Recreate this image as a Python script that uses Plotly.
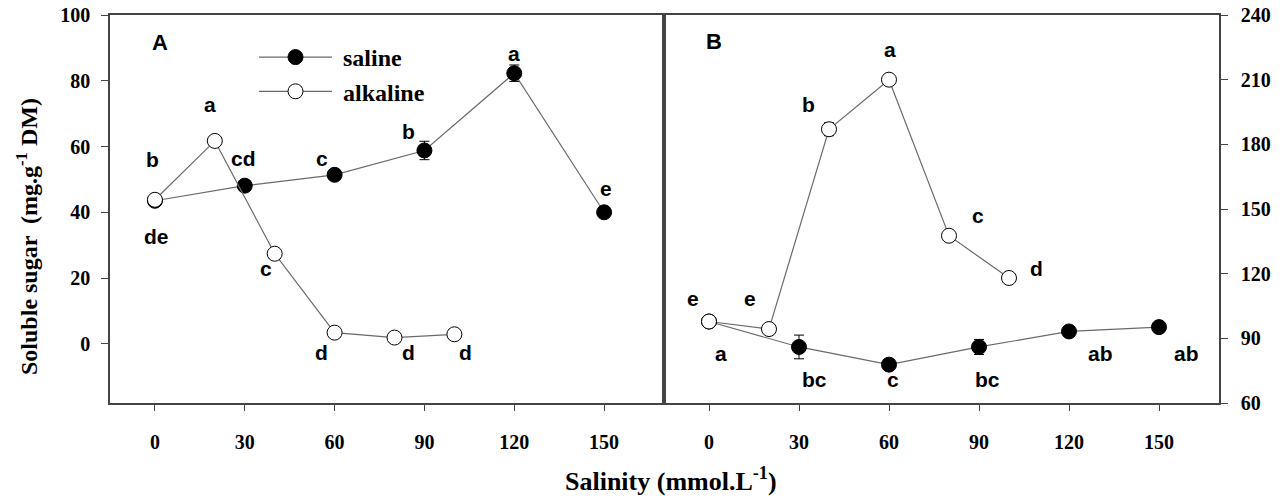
import plotly.graph_objects as go

# ---------------- data ----------------
# Panel A (left axis, mg.g-1 DM)
A_sal_x = [0, 30, 60, 90, 120, 150]
A_sal_y = [43.5, 48.1, 51.4, 58.8, 82.3, 40.0]
A_sal_err = [0, 0.8, 0.8, 2.8, 2.5, 0.8]
A_sal_letters = ["de", "cd", "c", "b", "a", "e"]

A_alk_x = [0, 20, 40, 60, 80, 100]
A_alk_y = [43.8, 61.7, 27.4, 3.4, 1.9, 2.9]
A_alk_err = [0.8, 1.2, 0.8, 0.5, 0.5, 0.5]
A_alk_letters = ["b", "a", "c", "d", "d", "d"]

# Panel B (right axis)
B_sal_x = [0, 30, 60, 90, 120, 150]
B_sal_y = [97.8, 86.0, 77.8, 86.0, 93.2, 95.2]
B_sal_err = [0.8, 5.5, 0.8, 3.5, 1.0, 1.0]
B_sal_letters = ["a", "bc", "c", "bc", "ab", "ab"]

B_alk_x = [0, 20, 40, 60, 80, 100]
B_alk_y = [97.8, 94.3, 187.0, 210.0, 137.6, 118.0]
B_alk_err = [0.8, 0.8, 3.0, 1.0, 1.0, 1.0]
B_alk_letters = ["e", "e", "b", "a", "c", "d"]

x_ticks = [0, 30, 60, 90, 120, 150]
yA_ticks = [0, 20, 40, 60, 80, 100]
yB_ticks = [60, 90, 120, 150, 180, 210, 240]

# ---------------- letter offsets (px) ----------------
A_sal_off = [(2, -36), (-1, 27), (-13, 16), (-16, 19), (0, 20), (2, 24)]
A_alk_off = [(-2, 40), (-5, 36), (-9, -15), (-13, -20), (14, -15), (11, -18)]
B_sal_off = [(12, -32), (15, -33), (4, -15), (8, -33), (31, -22), (27, -26)]
B_alk_off = [(-16, 23), (-19, 31), (-21, 25), (1, 30), (29, 20), (27, 9)]

W, H = 1285, 503
LINE_COL = "#6a6a6a"
AX_COL = "#444444"
SERIF = "Liberation Serif"
SANS = "Liberation Sans"
NB = "\u00a0"

fig = go.Figure()


def add_series(x, y, err, name, filled, xa, ya, show):
    fig.add_trace(go.Scatter(
        x=x, y=y, name="<b>%s%s</b>" % (NB, name), mode="lines+markers",
        xaxis=xa, yaxis=ya, showlegend=show, legendgroup=name,
        line=dict(color=LINE_COL, width=1.2),
        marker=dict(size=15, color="black" if filled else "white",
                    line=dict(color="black", width=1)),
        error_y=dict(type="data", array=err, visible=True,
                     color="black", thickness=1, width=5),
    ))


add_series(A_sal_x, A_sal_y, A_sal_err, "saline", True, "x", "y", True)
add_series(A_alk_x, A_alk_y, A_alk_err, "alkaline", False, "x", "y", True)
add_series(B_sal_x, B_sal_y, B_sal_err, "saline", True, "x2", "y2", False)
add_series(B_alk_x, B_alk_y, B_alk_err, "alkaline", False, "x2", "y2", False)


def add_letters(xs, ys, letters, offs, xr, yr):
    for x, y, t, (dx, dy) in zip(xs, ys, letters, offs):
        fig.add_annotation(x=x, y=y, xref=xr, yref=yr, text="<b>%s</b>" % t,
                           showarrow=False, xshift=dx, yshift=dy,
                           xanchor="center", yanchor="middle",
                           font=dict(family=SANS, size=21, color="black"))


add_letters(A_sal_x, A_sal_y, A_sal_letters, A_sal_off, "x", "y")
add_letters(A_alk_x, A_alk_y, A_alk_letters, A_alk_off, "x", "y")
add_letters(B_sal_x, B_sal_y, B_sal_letters, B_sal_off, "x2", "y2")
add_letters(B_alk_x, B_alk_y, B_alk_letters, B_alk_off, "x2", "y2")

# panel labels
for lab, px, py in [("A", 160, 43), ("B", 714, 42)]:
    fig.add_annotation(x=px / W, y=1 - py / H, xref="paper", yref="paper",
                       text="<b>%s</b>" % lab, showarrow=False,
                       xanchor="center", yanchor="middle",
                       font=dict(family=SANS, size=22, color="black"))

# axis titles
fig.add_annotation(x=27 / W, y=1 - 237 / H, xref="paper", yref="paper",
                   text="<b>Soluble sugar  (mg.g<sup>-1</sup> DM)</b>",
                   textangle=-90, showarrow=False,
                   xanchor="center", yanchor="middle",
                   font=dict(family=SERIF, size=24, color="black"))
fig.add_annotation(x=671 / W, y=1 - 479 / H, xref="paper", yref="paper",
                   text="<b>Salinity (mmol.L<sup>-1</sup>)</b>",
                   showarrow=False, xanchor="center", yanchor="middle",
                   font=dict(family=SERIF, size=26, color="black"))

ydom = [1 - 403 / H, 1 - 15 / H]
tickfont = dict(family=SERIF, size=20, color="black")


def bold(vals):
    return ["<b>%d</b>" % v for v in vals]


common_x = dict(range=[-15, 170], tickvals=x_ticks, ticktext=bold(x_ticks),
                ticks="outside", ticklen=6, tickcolor=AX_COL, showline=True,
                linecolor=AX_COL, linewidth=1.5, mirror=True, showgrid=False,
                zeroline=False, tickfont=tickfont, ticklabelstandoff=14,
                automargin=False)

fig.update_layout(
    width=W, height=H,
    margin=dict(l=0, r=0, t=0, b=0, pad=0, autoexpand=False),
    paper_bgcolor="white", plot_bgcolor="white",
    xaxis=dict(domain=[110 / W, 664 / W], anchor="y", **common_x),
    xaxis2=dict(domain=[664 / W, 1219 / W], anchor="y2", **common_x),
    yaxis=dict(domain=ydom, anchor="x", range=[-18, 100], tickvals=yA_ticks,
               ticktext=bold(yA_ticks),
               ticks="outside", ticklen=7, tickcolor=AX_COL, showline=True,
               linecolor=AX_COL, linewidth=1.5, mirror=True, showgrid=False,
               zeroline=False, tickfont=tickfont, ticklabelstandoff=7,
               automargin=False),
    yaxis2=dict(domain=ydom, anchor="x2", side="right", range=[60, 240],
                tickvals=yB_ticks, ticktext=bold(yB_ticks), ticks="outside",
                ticklen=7, tickcolor=AX_COL, showline=True, linecolor=AX_COL,
                linewidth=1.5, mirror=True, showgrid=False, zeroline=False,
                tickfont=tickfont, ticklabelstandoff=9, automargin=False),
    legend=dict(x=254 / W, y=1 - 35 / H, xanchor="left", yanchor="top",
                bgcolor="rgba(0,0,0,0)", borderwidth=0,
                font=dict(family=SERIF, size=24, color="black"),
                itemwidth=73, tracegroupgap=0),
)

fig.write_html("out.html")
